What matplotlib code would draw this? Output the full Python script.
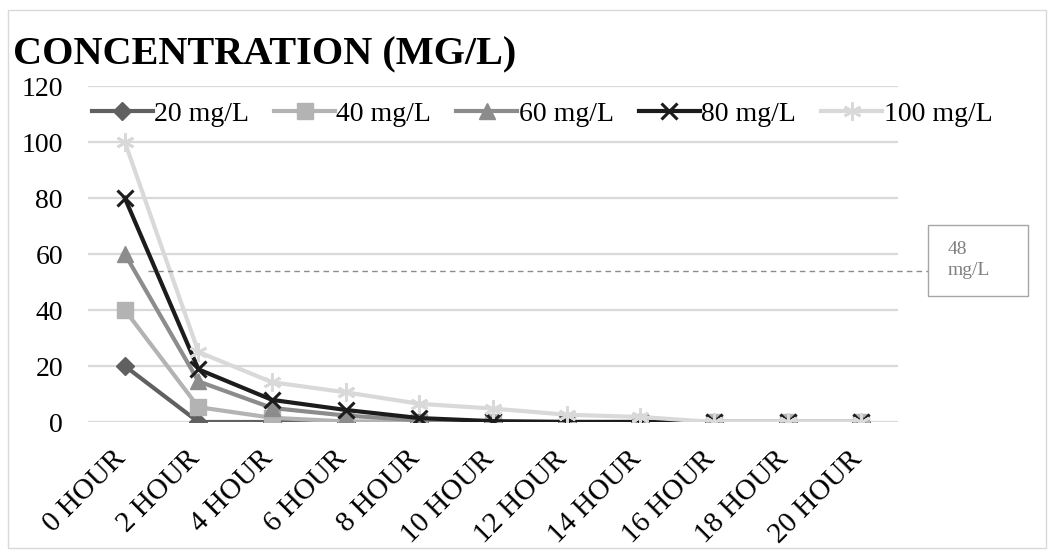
import matplotlib
matplotlib.use("Agg")
import matplotlib.pyplot as plt
import matplotlib.transforms as mtransforms
from matplotlib.patches import Rectangle

plt.rcParams['font.family'] = ['Liberation Serif', 'DejaVu Serif']

# data
hours = ["0 HOUR", "2 HOUR", "4 HOUR", "6 HOUR", "8 HOUR", "10 HOUR",
         "12 HOUR", "14 HOUR", "16 HOUR", "18 HOUR", "20 HOUR"]
c20 = [20, 0, 0, 0, 0, 0, 0, 0, 0, 0, 0]
c40 = [40, 5.3, 1.5, 0.2, 0, 0, 0, 0, 0, 0, 0]
c60 = [60, 14.5, 5, 2.3, 0.6, 0, 0, 0, 0, 0, 0]
c80 = [80, 18.8, 7.9, 4.3, 1.4, 0.3, 0, 0, 0, 0, 0]
c100 = [100, 25, 14.2, 10.6, 6.5, 4.8, 2.6, 1.8, 0, 0, 0]
series_names = ["20 mg/L", "40 mg/L", "60 mg/L", "80 mg/L", "100 mg/L"]
ref_value = 54
ref_label = "48\nmg/L"

fig = plt.figure(figsize=(10.54, 5.54), dpi=100)
ax = fig.add_axes([88/1054, 1-422/554, 810/1054, 336/554])

x = list(range(len(hours)))

#styles for each series
ax.plot(x, c20, color="#606060", lw=3, marker="D", ms=9, label=series_names[0])
ax.plot(x, c40, color="#b3b3b3", lw=3, marker="s", ms=11, label=series_names[1])
ax.plot(x, c60, color="#8c8c8c", lw=3, marker="^", ms=11, label=series_names[2])
ax.plot(x, c80, color="#1c1c1c", lw=3, marker="x", ms=12, mew=2.2, label=series_names[3])
ax.plot(x, c100, color="#d9d9d9", lw=3, marker=(6, 2, 0), ms=13, mew=2, label=series_names[4])

ax.set_xlim(-0.5, 10.5)
ax.set_ylim(0, 120)
ax.set_yticks(range(0, 121, 20))
ax.set_xticks(x)
ax.set_xticklabels(hours, rotation=45, ha="right", fontsize=21)
ax.tick_params(axis="y", labelsize=20, length=0, pad=18)
ax.tick_params(axis="x", length=0, pad=17)
ax.grid(axis="y", color="#d9d9d9", lw=1.6)
ax.set_axisbelow(True)
for s in ax.spines.values():
    s.set_visible(False)

# nudge the slanted labels a little to the right
shift = mtransforms.ScaledTranslation(6/100, 0, fig.dpi_scale_trans)
for lab in ax.get_xticklabels():
    lab.set_transform(lab.get_transform() + shift)

#dashed reference line and its label box
ax.plot([0.31, 10.91], [ref_value, ref_value], color="#8c8c8c", lw=1, ls=(0, (4, 3)), clip_on=False)
fig.patches.append(Rectangle((928/1054, 1-296/554), 100/1054, 71/554,
                             transform=fig.transFigure, fill=False, ec="#a6a6a6", lw=1))
fig.text(948/1054, 1-260/554, ref_label, fontsize=14, color="#7f7f7f", va="center", ha="left",
         linespacing=1.3)

fig.text(13/1054, 1-55/554, "CONCENTRATION (MG/L)", fontsize=29, fontweight="bold", va="center")

ax.legend(loc="center", bbox_to_anchor=(542/1054, 1-114/554), bbox_transform=fig.transFigure,
          ncol=5, frameon=False, fontsize=20, handlelength=2.2, handletextpad=0.05,
          columnspacing=0.9, borderaxespad=0)

# light border around the whole chart
fig.patches.append(Rectangle((8/1054, 6/554), 1038/1054, 538/554, transform=fig.transFigure,
                             fill=False, ec="#d9d9d9", lw=1))

fig.savefig("out.png", dpi=100)
